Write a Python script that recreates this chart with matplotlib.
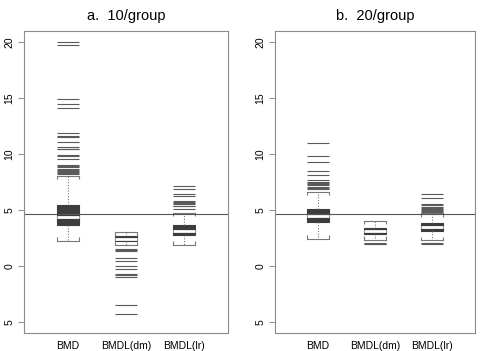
import matplotlib
matplotlib.use("Agg")
import matplotlib.pyplot as plt

plt.rcParams['font.family'] = ['Liberation Sans', 'DejaVu Sans']

groups = ['BMD', 'BMDL(dm)', 'BMDL(lr)']
titles = ['a.  10/group', 'b.  20/group']
ref_line = 4.6
yticks = [20, 15, 10, 5, 0, -5]
ytick_labels = ['20', '15', '10', '5', '0', '5']

# five-number summaries, panel a then panel b
q1 = [[3.70, 2.20, 2.75], [3.97, 2.86, 3.13]]
med = [[4.38, 2.42, 3.13], [4.45, 3.10, 3.44]]
q3 = [[5.49, 2.65, 3.64], [5.10, 3.35, 3.82]]
whislo = [[2.27, 1.85, 1.91], [2.45, 2.36, 2.30]]
whishi = [[8.02, 2.99, 4.77], [6.62, 4.03, 4.69]]

fliers_a = [
    [20.0, 19.8, 14.9, 14.5, 14.1, 11.9, 11.6, 11.5, 11.05, 10.64, 10.5, 10.44,
     9.96, 9.85, 9.54, 9.0, 8.9, 8.86, 8.7, 8.6, 8.5, 8.4, 8.3, 8.26],
    [1.55, 1.42, 1.3, 0.75, 0.45, 0.0, -0.3, -0.75, -0.85, -0.95, -3.52, -4.32],
    [7.16, 6.92, 6.41, 6.26, 5.82, 5.7, 5.6, 5.5, 5.4, 5.34, 5.13],
]
fliers_b = [
    [11.0, 9.84, 9.25, 8.47, 8.17, 7.67, 7.55, 7.45, 7.35, 7.2, 7.1, 7.0, 6.92],
    [2.08, 2.0, 1.95],
    [6.47, 6.03, 5.58, 5.45, 5.3, 5.2, 5.1, 5.0, 4.92, 4.83, 2.05, 2.0],
]
fliers = [fliers_a, fliers_b]

fig = plt.figure(figsize=(4.8, 3.51), dpi=100)
positions = [[0.05, 0.0513, 0.425, 0.860], [0.5729, 0.0513, 0.4167, 0.860]]

for p in range(2):
    ax = fig.add_axes(positions[p])
    stats = []
    for i, g in enumerate(groups):
        stats.append(dict(label=g, q1=q1[p][i], med=med[p][i], q3=q3[p][i],
                          whislo=whislo[p][i], whishi=whishi[p][i],
                          fliers=fliers[p][i]))
    res = ax.bxp(stats, positions=[1, 2, 3], widths=0.38, patch_artist=True,
                 capwidths=0.38,
                 boxprops=dict(facecolor='#3d3d3d', edgecolor='#3d3d3d', lw=0.8),
                 medianprops=dict(color='white', lw=2.0),
                 whiskerprops=dict(color='#777777', lw=0.8, linestyle=(0, (1, 1.5))),
                 capprops=dict(color='#777777', lw=0.8),
                 flierprops=dict(marker='_', markersize=15.6, markeredgewidth=0.8,
                                 markeredgecolor='#5a5a5a'))
    # little bracket ends on the staples
    for k, cap in enumerate(res['caps']):
        xs = cap.get_xdata()
        y = cap.get_ydata()[0]
        d = 0.28 if k % 2 == 0 else -0.28
        ax.vlines([xs[0], xs[1]], y, y + d, color='#777777', lw=0.8)

    ax.axhline(ref_line, color='#555555', lw=0.8)
    ax.set_xlim(0.24, 3.76)
    ax.set_ylim(-6, 21)
    ax.set_yticks(yticks)
    ax.set_yticklabels(ytick_labels, rotation=90, va='center', fontsize=7.5)
    ax.tick_params(axis='y', length=4, width=0.6, color='#777777', pad=3)
    ax.tick_params(axis='x', length=0, pad=6, labelsize=7.5)
    for s in ax.spines.values():
        s.set_color('#8c8c8c')
        s.set_linewidth(0.8)
    ax.set_title(titles[p], fontsize=10.5, pad=8)

fig.savefig('out.png', dpi=100)
